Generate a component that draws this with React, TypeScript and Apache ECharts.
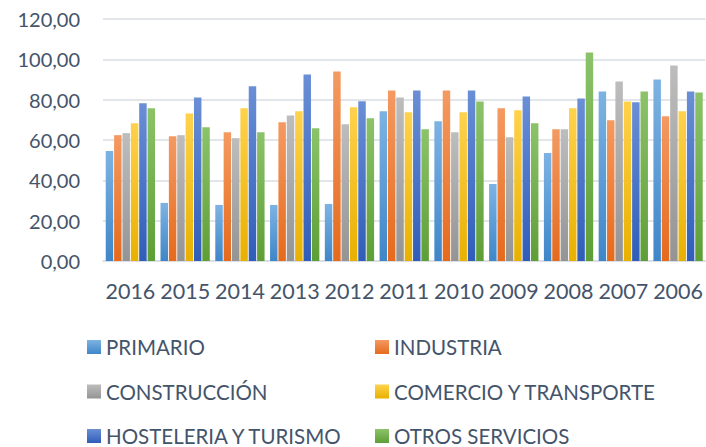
import React, { useEffect, useRef } from "react";
import * as echarts from "echarts";

const categories = ["2016", "2015", "2014", "2013", "2012", "2011", "2010", "2009", "2008", "2007", "2006"];
const seriesNames = ["PRIMARIO", "INDUSTRIA", "CONSTRUCCIÓN", "COMERCIO Y TRANSPORTE", "HOSTELERIA Y TURISMO", "OTROS SERVICIOS"];
const primario = [54.5, 28.8, 27.8, 27.8, 28.3, 74.2, 69.3, 38.2, 53.5, 84.1, 90.0];
const industria = [62.4, 61.9, 63.9, 68.8, 94.0, 84.6, 84.6, 75.7, 65.3, 69.8, 71.8];
const construccion = [63.4, 62.4, 60.9, 72.2, 67.8, 81.1, 63.9, 61.4, 65.3, 89.0, 96.9];
const comercio = [68.3, 73.2, 75.7, 74.2, 76.2, 73.7, 73.7, 74.7, 75.7, 79.1, 74.2];
const hosteleria = [78.2, 81.1, 86.6, 92.5, 79.2, 84.6, 84.6, 81.6, 80.6, 78.7, 84.1];
const otros = [75.7, 66.3, 63.9, 65.8, 70.8, 65.3, 79.1, 68.3, 103.4, 84.1, 83.6];
const yTicks = { min: 0, max: 120, interval: 20 };

const colorsTop = ["#7DB3E3", "#F49A62", "#BDBDBD", "#FFD24D", "#6A8FD6", "#8CC36A"];
const colorsBottom = ["#3F86C8", "#E56A1C", "#949494", "#E8B000", "#2F5DB8", "#5E9E36"];

const fontFamily = "Lato, 'Open Sans', sans-serif";
const textColor = "#44546A";

export default function App() {
  const ref = useRef<HTMLDivElement>(null);
  useEffect(() => {
    if (!ref.current) return;
    const chart = echarts.init(ref.current, null, { renderer: "svg" });
    const data = [primario, industria, construccion, comercio, hosteleria, otros];
    const grad = (i: number) =>
      new echarts.graphic.LinearGradient(0, 0, 0, 1, [
        { offset: 0, color: colorsTop[i] },
        { offset: 1, color: colorsBottom[i] },
      ]);
    const legendCols = [87, 375];
    const legendRows = [344.5, 389, 433.5];
    const legends = seriesNames.map((name, i) => ({
      orient: "horizontal",
      left: legendCols[i % 2],
      top: legendRows[Math.floor(i / 2)] - 8,
      padding: 0,
      itemWidth: 14,
      itemHeight: 14,
      itemGap: 6,
      icon: "rect",
      data: [{ name, itemStyle: { color: grad(i) } }],
      textStyle: { fontFamily, fontSize: 20.5, color: textColor, lineHeight: 16 },
    }));
    chart.setOption({
      animation: false,
      grid: { left: 103, right: 0, top: 19, bottom: 186 },
      legend: legends,
      xAxis: {
        type: "category",
        data: categories,
        axisLine: { show: true, lineStyle: { color: "#D9DDE3", width: 1.5 } },
        axisTick: { show: false },
        axisLabel: { fontFamily, fontSize: 21.5, color: textColor, margin: 19, interval: 0 },
      },
      yAxis: {
        type: "value",
        min: yTicks.min,
        max: yTicks.max,
        interval: yTicks.interval,
        axisLine: { show: false },
        axisTick: { show: false },
        splitLine: { lineStyle: { color: "#D9DDE3", width: 1.5 } },
        axisLabel: {
          fontFamily,
          fontSize: 20,
          color: textColor,
          margin: 23,
          formatter: (v: number) => v.toFixed(2).replace(".", ","),
        },
      },
      series: data.map((d, i) => ({
        name: seriesNames[i],
        type: "bar",
        data: d,
        barGap: "12%",
        barCategoryGap: "10%",
        itemStyle: { color: grad(i) },
      })),
    });
    return () => chart.dispose();
  }, []);
  return <div ref={ref} style={{ width: 706, height: 447, position: "absolute", left: 0, top: 0, background: "#fff" }} />;
}
